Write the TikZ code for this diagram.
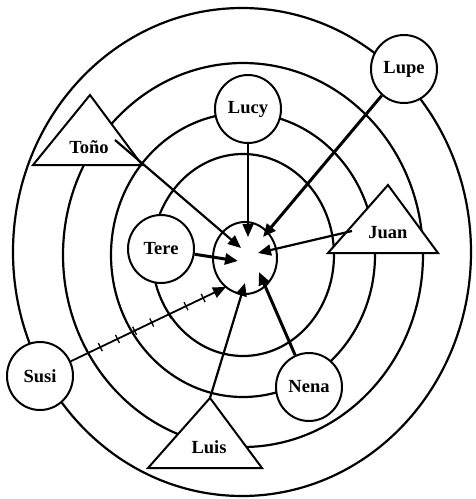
\documentclass[tikz,border=0pt]{standalone}
\usepackage{fontspec}
\setmainfont{Liberation Serif}
\usetikzlibrary{arrows.meta,shapes.geometric,decorations.markings}
\begin{document}
\begin{tikzpicture}[x=1pt,y=-1pt,
  ring/.style={line width=2.2pt},
  lblfont/.style={font=\fontsize{18.5}{20}\selectfont\bfseries},
  person/.style={ellipse,draw,line width=2pt,fill=white,minimum width=66pt,minimum height=68pt,inner sep=0pt,lblfont},
  tri/.style={draw,line width=2pt,fill=white,line join=miter},
  lbl/.style={inner sep=0pt,lblfont},
  arr/.style={-{Triangle[length=13pt,width=11pt]}},
  thin arr/.style={arr,line width=1.4pt},
  mid arr/.style={arr,line width=2.2pt},
  thick arr/.style={arr,line width=3pt},
  hatch/.style={postaction={decorate},decoration={markings,
     mark=between positions 0.19 and 0.88 step 19pt with {\draw[line width=1.3pt,arrows=-] (0,-4.5pt) -- (0,4.5pt);}}}
]
\useasboundingbox (0,0) rectangle (476,499);

% concentric rings
\draw[ring] (242,252) ellipse [x radius=229pt, y radius=244pt];
\draw[ring] (243,255) ellipse [x radius=180pt, y radius=192pt];
\draw[ring] (243,255) ellipse [x radius=132pt, y radius=142pt];
\draw[ring] (243,255) ellipse [x radius=91pt, y radius=101pt];

% centre
\node[ellipse,draw,line width=2pt,fill=white,minimum width=64pt,minimum height=72pt,inner sep=0pt] (core) at (245,258) {};

% circle persons
\node[person] (Lupe) at (404,69) {Lupe};
\node[person] (Lucy) at (248,109) {Lucy};
\node[person] (Tere) at (161,249) {Tere};
\node[person] (Susi) at (40,376) {Susi};
\node[person] (Nena) at (309,387) {Nena};

% triangle persons
\coordinate (TonoA) at (90,95);
\coordinate (TonoL) at (33,165);
\coordinate (TonoR) at (142,165);
\path[tri] (TonoA) -- (TonoL) -- (TonoR) -- cycle;
\node[lbl] (Tono) at (89,147) {Toño};

\coordinate (JuanA) at (388,185);
\coordinate (JuanL) at (328,253);
\coordinate (JuanR) at (438,253);
\path[tri] (JuanA) -- (JuanL) -- (JuanR) -- cycle;
\node[lbl] (Juan) at (388,233) {Juan};

\coordinate (LuisA) at (210,398);
\coordinate (LuisL) at (148,468);
\coordinate (LuisR) at (262,468);
\path[tri] (LuisA) -- (LuisL) -- (LuisR) -- cycle;
\node[lbl] (Luis) at (209,447) {Luis};

% arrow tips inside the centre
\coordinate (tLucy) at (248,237);
\coordinate (tTono) at (241,248);
\coordinate (tTere) at (238,261);
\coordinate (tJuan) at (258,253);
\coordinate (tLupe) at (263,237);
\coordinate (tNena) at (259,272);
\coordinate (tLuis) at (245,283);
\coordinate (tSusi) at (226,287);

% arrow starts inside triangles
\coordinate (sTono) at (115,140);
\coordinate (sJuan) at (352,231);

% arrows
\draw[thin arr] (Lucy) -- (tLucy);
\draw[mid arr] (sTono) -- (tTono);
\draw[thick arr] (Tere) -- (tTere);
\draw[mid arr] (sJuan) -- (tJuan);
\draw[thick arr] (Lupe) -- (tLupe);
\draw[thick arr] (Nena) -- (tNena);
\draw[mid arr] (LuisA) -- (tLuis);
\draw[mid arr,line width=1.8pt,hatch] (Susi) -- (tSusi);
\end{tikzpicture}
\end{document}
